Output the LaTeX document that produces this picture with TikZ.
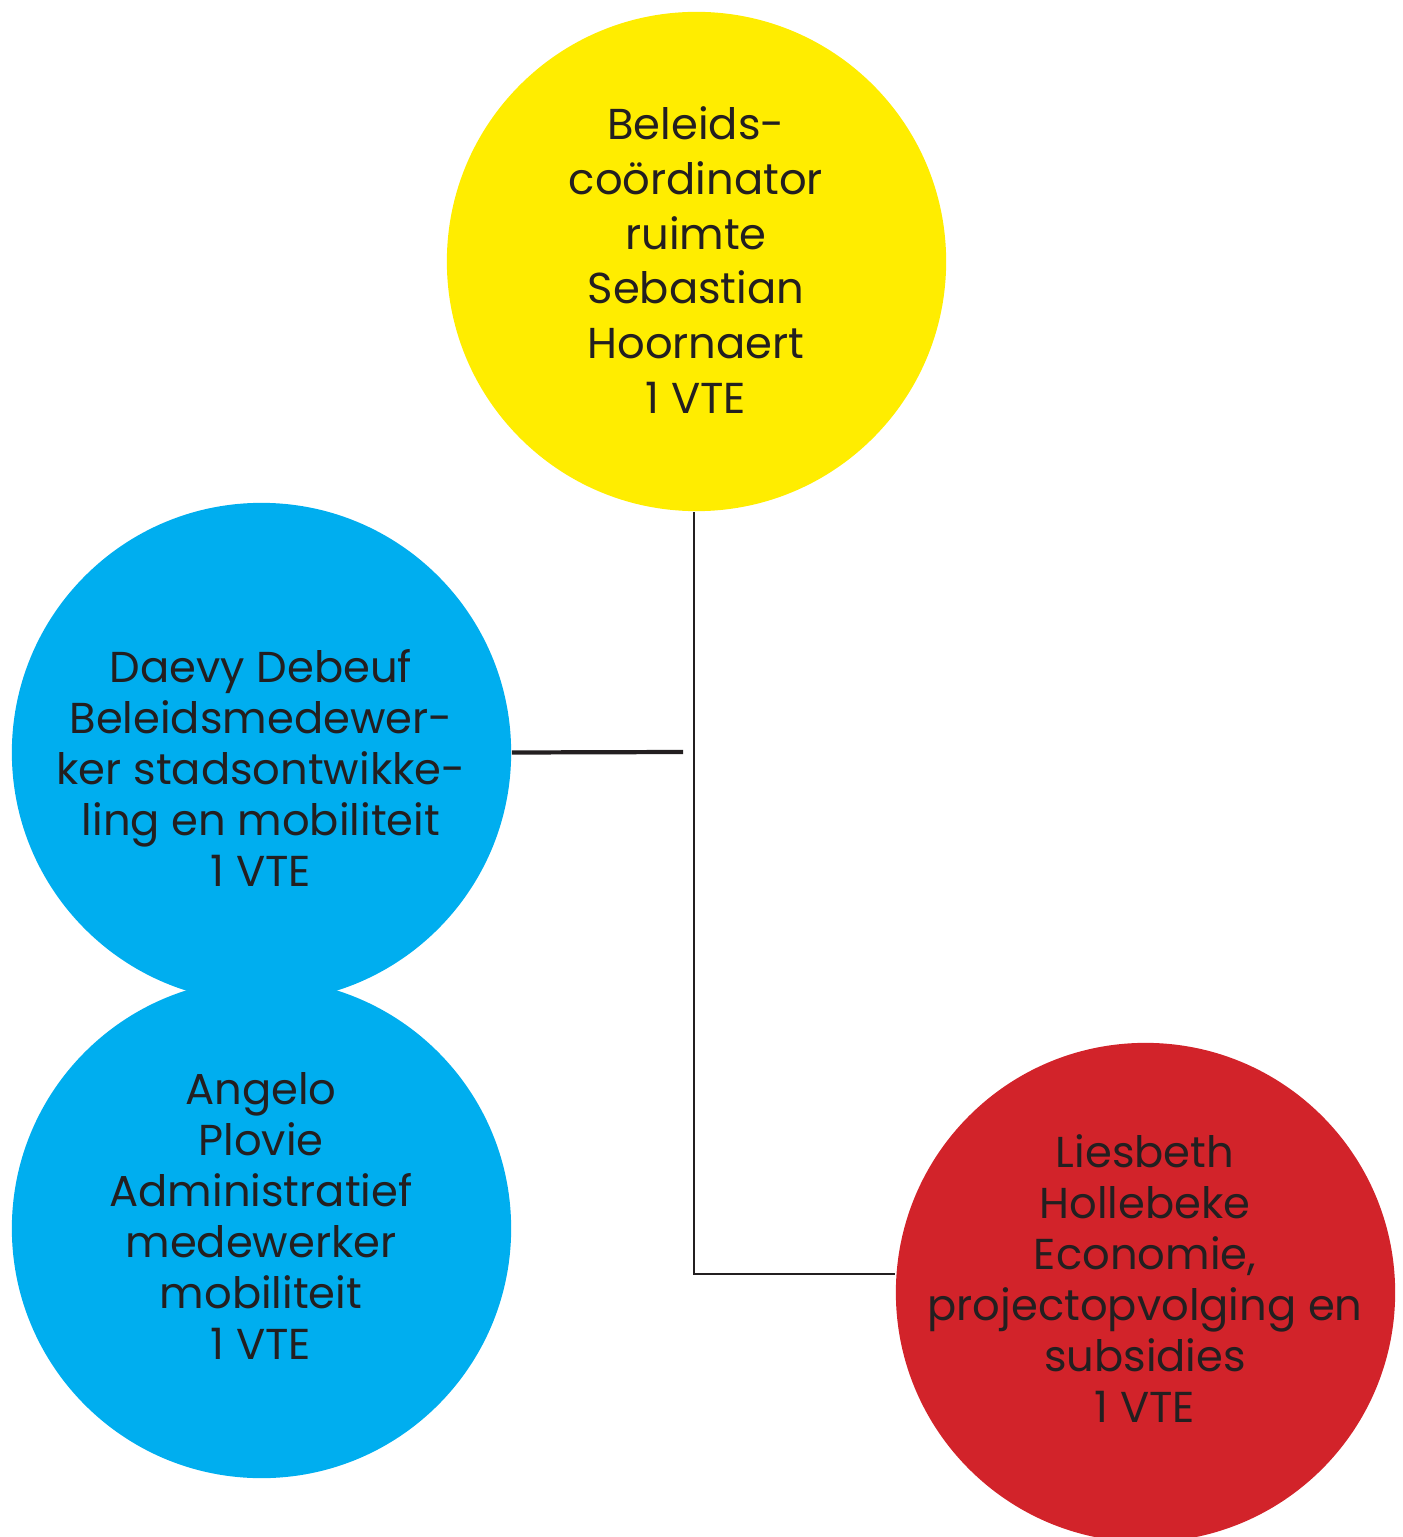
\documentclass[tikz,border=0pt]{standalone}
\usepackage{fontspec}
\setmainfont{Poppins}
\definecolor{cyel}{RGB}{255,237,0}
\definecolor{cblue}{RGB}{0,174,239}
\definecolor{cred}{RGB}{210,35,42}
\definecolor{ctext}{RGB}{35,31,32}
\begin{document}
\begin{tikzpicture}[x=0.01cm,y=-0.01cm,
  bubble/.style={circle, minimum size=4.99cm, inner sep=0pt, draw=none},
  txt/.style={align=center, inner sep=0pt, text=ctext, font=\fontsize{12.3}{14.5}\selectfont},
  txtwide/.style={txt, font=\fontsize{12.3}{15.6}\selectfont},
  thinline/.style={draw=ctext, line width=0.6pt},
  thickline/.style={draw=ctext, line width=1.2pt}]
\useasboundingbox (0,0) rectangle (1402,1537);
\begin{scope}
\clip (0,0) rectangle (1402,1537);
\node[bubble, fill=cyel] (yel) at (696.5,261.5) {};
\node[bubble, fill=cblue] (blueA) at (261.5,752.5) {};
\node[bubble, fill=cblue] (blueB) at (261.5,1228.5) {};
\node[bubble, fill=cred] (red) at (1145.5,1292.5) {};
\end{scope}
\node[txtwide] (tyel) at (696,260) {Beleids-\\coördinator\\ruimte\\Sebastian\\Hoornaert\\1 VTE};
\node[txt] (tblueA) at (261,768) {Daevy Debeuf\\Beleidsmedewer-\\ker stadsontwikke-\\ling en mobiliteit\\1 VTE};
\node[txt] (tblueB) at (261,1216) {Angelo\\Plovie\\Administratief\\medewerker\\mobiliteit\\1 VTE};
\node[txt] (tred) at (1145,1279) {Liesbeth\\Hollebeke\\Economie,\\projectopvolging en\\subsidies\\1 VTE};
\coordinate (corner) at (694,1274);
\coordinate (hend) at (683,752);
\draw[thinline] (yel.south -| corner) -- (corner) -- (corner -| red.west);
\draw[thickline] (blueA.east) -- (hend);
\end{tikzpicture}
\end{document}
